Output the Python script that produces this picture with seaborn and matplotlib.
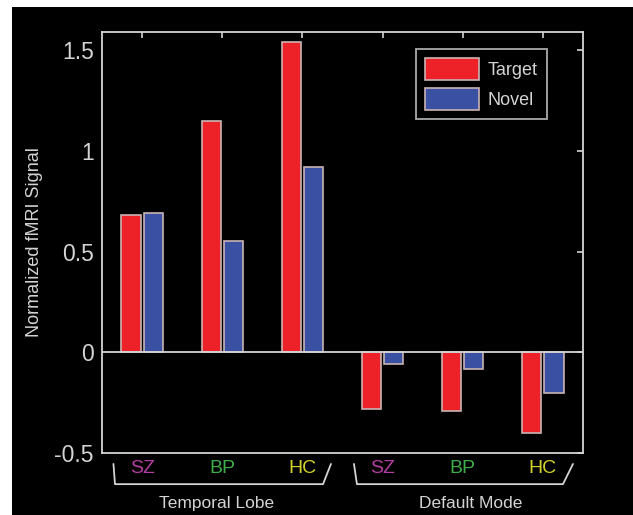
import pandas as pd
import matplotlib.pyplot as plt
import matplotlib.transforms as mtransforms
from matplotlib.patches import Rectangle
import seaborn as sns

regions = ['Temporal Lobe', 'Default Mode']
groups = ['SZ', 'BP', 'HC']
conditions = ['Target', 'Novel']
target = [0.68, 1.15, 1.54, -0.28, -0.29, -0.40]
novel = [0.69, 0.55, 0.92, -0.06, -0.085, -0.20]
yticks = [-0.5, 0, 0.5, 1, 1.5]
ytick_labels = ['-0.5', '0', '0.5', '1', '1.5']

group_colors = {'SZ': '#b23fa2', 'BP': '#3fae4a', 'HC': '#d6d42c'}
bar_colors = ['#ed2128', '#3a50a2']
fg = '#d4d4d4'

keys = [f'{r} {g}' for r in regions for g in groups]
df = pd.DataFrame({
    'key': keys * 2,
    'cond': ['Target'] * 6 + ['Novel'] * 6,
    'value': target + novel,
})

sns.set_style('dark')
plt.rcParams['font.family'] = ['Liberation Sans', 'DejaVu Sans']

fig = plt.figure(figsize=(6.33, 5.15), dpi=100)
fig.patch.set_facecolor('white')
fig.patches.append(Rectangle((12 / 633, 0), 1, 1 - 7 / 515, transform=fig.transFigure,
                             facecolor='black', edgecolor='none', zorder=-10))
ax = fig.add_axes([102 / 633, 62 / 515, 481 / 633, 421 / 515])
ax.set_facecolor('black')

sns.barplot(data=df, x='key', y='value', hue='cond', order=keys, hue_order=conditions,
            palette=bar_colors, width=0.55, gap=0.13, edgecolor='#c9b4b4',
            linewidth=1.2, saturation=1, ax=ax)

ax.axhline(0, color=fg, lw=1.3, zorder=1)
ax.set_xlim(-0.5, 5.5)
ax.set_ylim(-0.5, 1.59)
ax.set_yticks(yticks)
ax.set_yticklabels(ytick_labels)
ax.set_xticks(range(6))
ax.set_xticklabels([g for r in regions for g in groups])
ax.tick_params(axis='both', direction='in', length=4, width=1.2, color=fg,
               top=True, right=True, labelcolor=fg)
ax.tick_params(axis='y', labelsize=16.5, pad=6)
ax.tick_params(axis='x', labelsize=14, pad=5)
for lbl, g in zip(ax.get_xticklabels(), groups * 2):
    lbl.set_color(group_colors[g])
for sp in ax.spines.values():
    sp.set_visible(True)
    sp.set_color(fg)
    sp.set_linewidth(1.3)
ax.grid(False)

ax.set_xlabel('')
ax.set_ylabel('Normalized fMRI Signal', color=fg, fontsize=13)
ax.yaxis.set_label_coords(-0.14, 0.50)
ax.yaxis.label.set_verticalalignment('center')

handles, labels = ax.get_legend_handles_labels()
leg = ax.legend(handles, labels, loc='upper right', bbox_to_anchor=(0.925, 0.96),
                borderaxespad=0, frameon=True, fancybox=False, fontsize=13,
                handlelength=3.0, handleheight=1.5, handletextpad=0.5,
                labelspacing=0.45, borderpad=0.5, labelcolor=fg)
leg.get_frame().set_facecolor('black')
leg.get_frame().set_edgecolor(fg)
leg.get_frame().set_linewidth(1.3)

# brackets under the group labels
trans = mtransforms.blended_transform_factory(ax.transData, ax.transAxes)
brackets = [
    ([-0.357, -0.338, 2.257, 2.356], 0.934),
    ([2.643, 2.68, 5.25, 5.375], 4.10),
]
for (x0, x1, x2, x3), xt in brackets:
    ax.plot([x0, x1, x2, x3], [-0.026, -0.074, -0.074, -0.026], color=fg, lw=1.3,
            transform=trans, clip_on=False)
for (xs, xt), name in zip(brackets, regions):
    ax.text(xt, -0.12, name, transform=trans, ha='center', va='center',
            color=fg, fontsize=12.5)

fig.savefig('out.png', dpi=100, facecolor=fig.get_facecolor())
